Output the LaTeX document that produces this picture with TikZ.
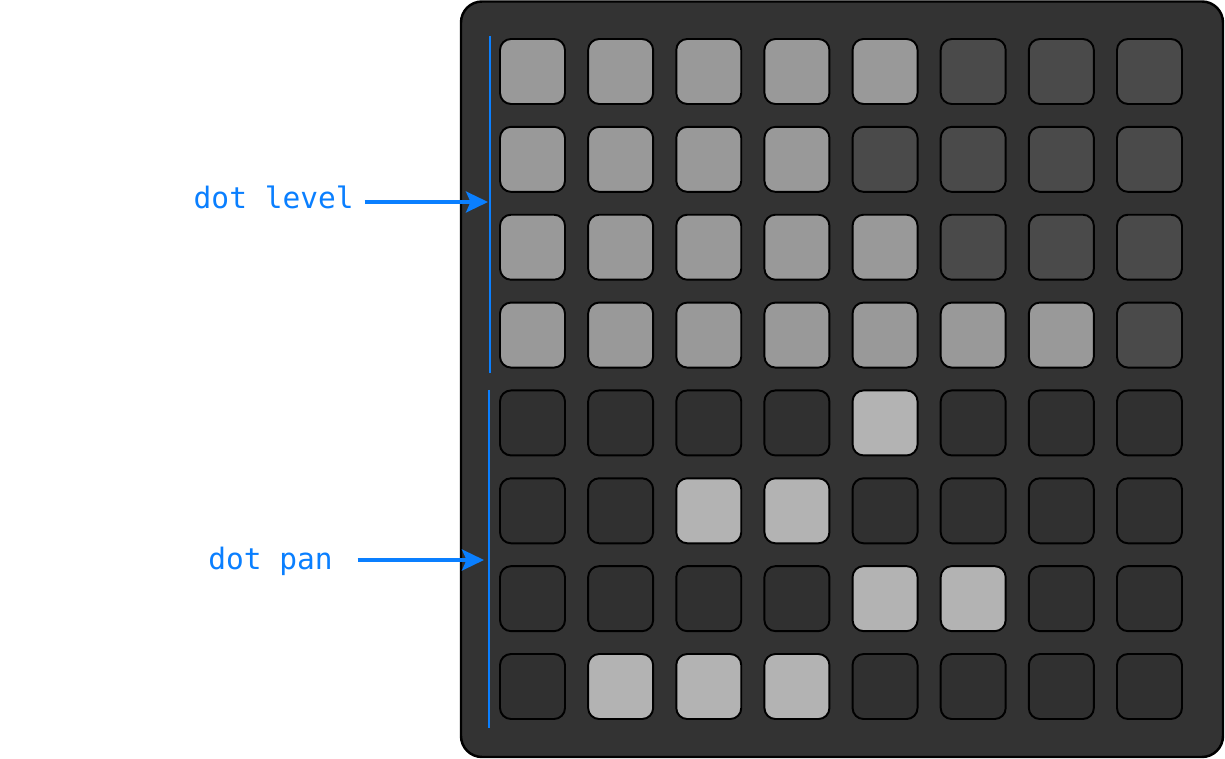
\documentclass[tikz,border=0pt]{standalone}
\usepackage{fontspec}
\setmonofont{DejaVu Sans Mono}
\usetikzlibrary{arrows.meta, positioning}
\definecolor{dotBlue}{HTML}{0A7FFF}
\definecolor{gridBg}{HTML}{333333}
\definecolor{padc0}{HTML}{303030}
\definecolor{padc1}{HTML}{999999}
\definecolor{padc2}{HTML}{4A4A4A}
\definecolor{padc3}{HTML}{B3B3B3}
\tikzset{
  arrowB/.style={-{Stealth[length=4.4mm, width=4.2mm, inset=0.9mm]}, dotBlue, line width=1.8pt},
  brace/.style={dotBlue, line width=1.2pt},
  lbl/.style={text=dotBlue, font=\ttfamily\fontsize{16.8}{18}\selectfont, inner sep=0pt},
  panel/.style={draw=black, fill=gridBg, line width=1.4pt, rounded corners=0.42cm},
  pad/.style={rectangle, draw=black, line width=1.1pt, rounded corners=0.22cm,
              minimum width=1.3cm, minimum height=1.3cm, inner sep=0pt},
}

\begin{document}
\begin{tikzpicture}[x=0.02cm, y=-0.02cm]
    \useasboundingbox (0,0) rectangle (1225,759);
    % grid panel
    \draw[panel] (461,1.5) rectangle (1223,757);
    % pads: 0 off, 1 level, 2 dim, 3 on
    \foreach \row/\states in {1/{1,1,1,1,1,2,2,2}, 2/{1,1,1,1,2,2,2,2},
                              3/{1,1,1,1,1,2,2,2}, 4/{1,1,1,1,1,1,1,2},
                              5/{0,0,0,0,3,0,0,0}, 6/{0,0,3,3,0,0,0,0},
                              7/{0,0,0,0,3,3,0,0}, 8/{0,3,3,3,0,0,0,0}}
      \foreach \s [count=\col] in \states
        \node[pad, fill=padc\s] (pad-\row-\col)
          at ({532.5+88.14*(\col-1)}, {71.5+87.86*(\row-1)}) {};
    % markers
    \coordinate (lvlTop) at (490,36);
    \coordinate (lvlBot) at (490,373);
    \coordinate (panTop) at (489,390);
    \coordinate (panBot) at (489,728);
    \coordinate (lvlTip) at (488,202);
    \coordinate (panTip) at (484,560);
    \draw[brace] (lvlTop) -- (lvlBot);
    \draw[brace] (panTop) -- (panBot);
    % labels
    \node[lbl, anchor=base east] (lvl) at (354,209) {dot level};
    \node[lbl, anchor=base east] (pan) at (333,570) {dot pan};
    \draw[arrowB, shorten <=6pt] (lvl.east |- lvlTip) -- (lvlTip);
    \draw[arrowB, shorten <=14pt] (pan.east |- panTip) -- (panTip);
\end{tikzpicture}
\end{document}
